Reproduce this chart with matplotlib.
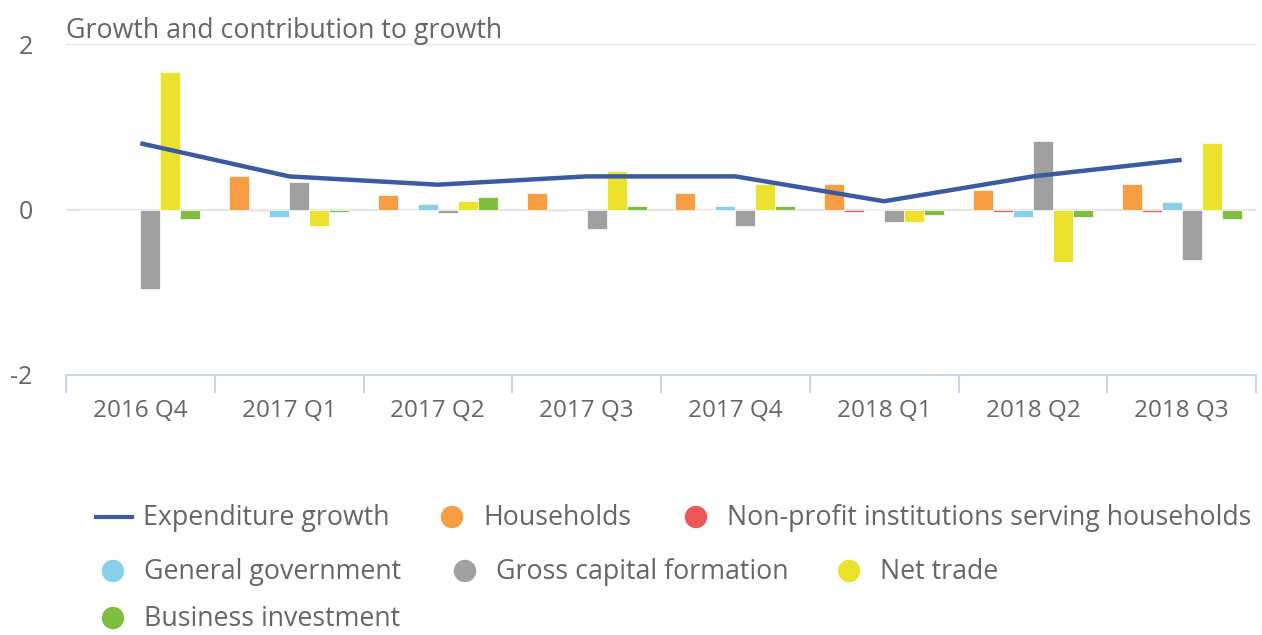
import numpy as np
import matplotlib
matplotlib.use("Agg")
import matplotlib.pyplot as plt

plt.rcParams['font.family'] = ['Open Sans', 'DejaVu Sans']

quarters = ["2016 Q4", "2017 Q1", "2017 Q2", "2017 Q3", "2017 Q4", "2018 Q1", "2018 Q2", "2018 Q3"]

expenditure_growth = [0.8, 0.4, 0.3, 0.4, 0.4, 0.1, 0.4, 0.6]
households = [0.0, 0.4, 0.18, 0.2, 0.2, 0.31, 0.23, 0.31]
npish = [0.0, -0.02, 0.0, -0.02, 0.0, -0.03, -0.03, -0.03]
general_government = [0.0, -0.09, 0.07, -0.02, 0.04, 0.01, -0.09, 0.09]
gross_capital_formation = [-0.96, 0.33, -0.04, -0.23, -0.2, -0.15, 0.83, -0.61]
net_trade = [1.66, -0.2, 0.1, 0.47, 0.31, -0.15, -0.63, 0.8]
business_investment = [-0.12, -0.03, 0.15, 0.04, 0.04, -0.07, -0.09, -0.12]

bar_series = [
    ("Households", households, "#f79d42"),
    ("Non-profit institutions serving households", npish, "#eb5757"),
    ("General government", general_government, "#88d0e8"),
    ("Gross capital formation", gross_capital_formation, "#a0a0a0"),
    ("Net trade", net_trade, "#eae22d"),
    ("Business investment", business_investment, "#80be41"),
]
line_color = "#3a5ba0"
text_color = "#666666"

fig = plt.figure(figsize=(12.62, 6.35), dpi=100)
W, H = 1262, 635
ax = fig.add_axes([66 / W, 1 - 375 / H, (1256 - 66) / W, (375 - 44) / H])

x = np.arange(len(quarters))
w = 0.1345
for i, (name, vals, col) in enumerate(bar_series):
    ax.bar(x + (i - 2.5) * w, vals, width=w, color=col,
           edgecolor="white", linewidth=0.5, zorder=3)
ax.plot(x, expenditure_growth, color=line_color, linewidth=3.2, zorder=4,
        solid_capstyle="butt")

ax.set_xlim(-0.5, len(quarters) - 0.5)
ax.set_ylim(-2, 2)
ax.set_yticks([-2, 0, 2])
ax.set_yticklabels(["-2", "0", "2"])
for yv in [0, 2]:
    ax.axhline(yv, color="#e6e6e6", linewidth=1.5, zorder=1)

for s in ["top", "right", "left"]:
    ax.spines[s].set_visible(False)
ax.spines["bottom"].set_color("#ccd6eb")
ax.spines["bottom"].set_linewidth(1.5)

ax.set_xticks(x)
ax.set_xticklabels(quarters)
ax.set_xticks(np.arange(len(quarters) + 1) - 0.5, minor=True)
ax.tick_params(axis="x", which="major", length=0, pad=17, labelsize=17.5,
               labelcolor=text_color)
ax.tick_params(axis="x", which="minor", length=13, width=1.5, color="#ccd6eb")
ax.tick_params(axis="y", length=0, pad=24, labelsize=18, labelcolor=text_color)
for lbl in ax.get_yticklabels():
    lbl.set_verticalalignment("center_baseline")

fig.text(66 / W, 1 - 31 / H, "Growth and contribution to growth", fontsize=19.3,
         color=text_color, va="center", ha="left")

# legend, laid out in rows like the original
lax = fig.add_axes([0, 0, 1, 1])
lax.set_xlim(0, W)
lax.set_ylim(H, 0)
lax.axis("off")

legend_items = [
    ("line", "Expenditure growth", line_color, 96, 517),
    ("dot", "Households", bar_series[0][2], 452, 517),
    ("dot", bar_series[1][0], bar_series[1][2], 696, 517),
    ("dot", "General government", bar_series[2][2], 113, 571),
    ("dot", "Gross capital formation", bar_series[3][2], 465, 571),
    ("dot", "Net trade", bar_series[4][2], 849, 571),
    ("dot", "Business investment", bar_series[5][2], 113, 618),
]
for kind, label, col, hx, hy in legend_items:
    if kind == "line":
        lax.plot([hx, hx + 36], [hy, hy], color=col, linewidth=3)
        tx = hx + 47
    else:
        lax.scatter([hx], [hy], s=260, color=col, edgecolors="none")
        tx = hx + 31
    lax.text(tx, hy + 1, label, fontsize=19.3, color=text_color, va="center", ha="left")

fig.savefig("out.png", dpi=100)
